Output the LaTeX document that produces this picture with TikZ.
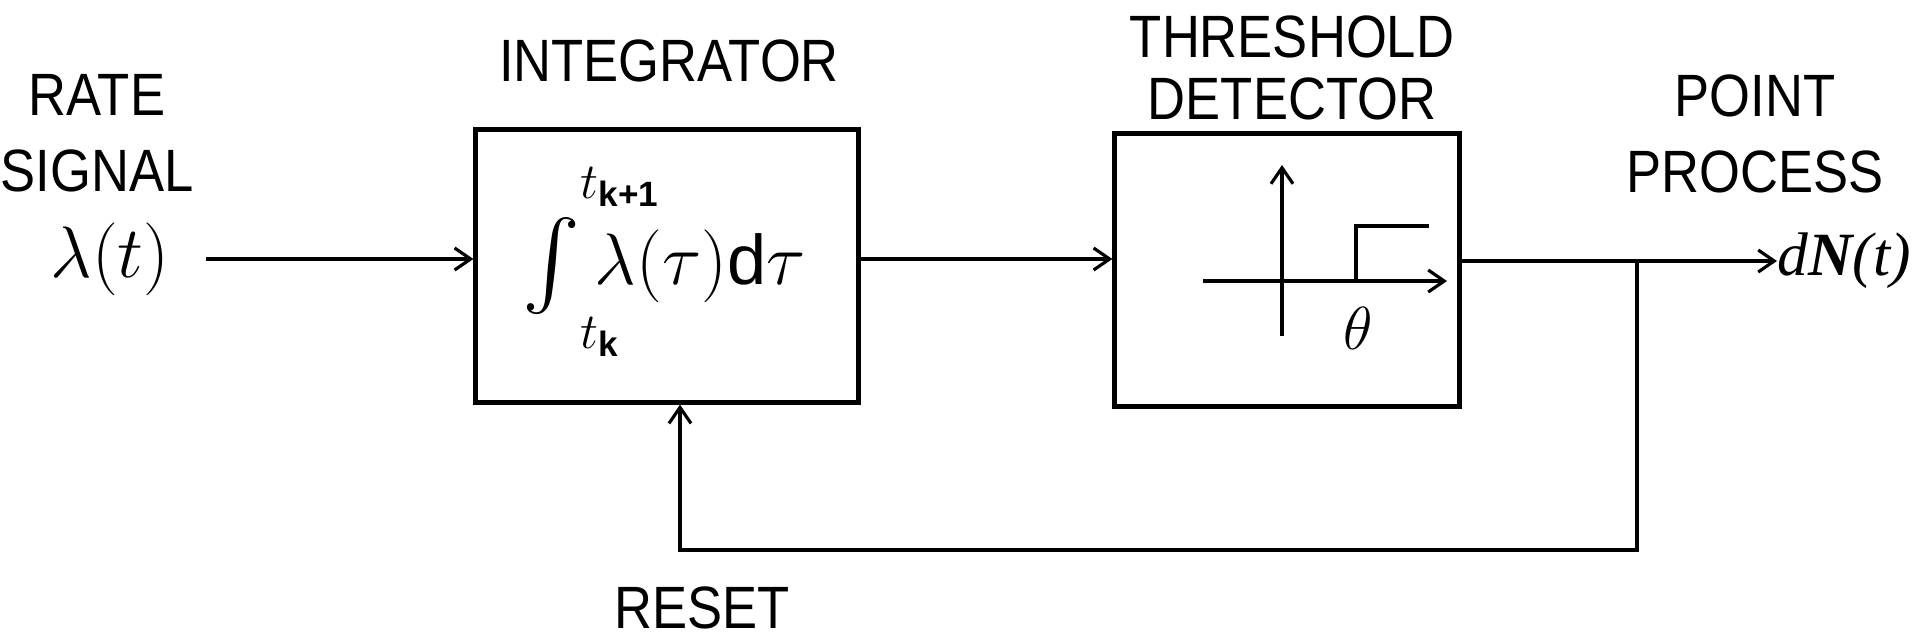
\documentclass[tikz,border=0pt]{standalone}
\usepackage{amsmath}
\usepackage{fontspec}
\setmainfont{Liberation Sans}
\newfontfamily\capsfont{Liberation Sans}[FakeStretch=0.88]
\newfontfamily\timesfont{Liberation Serif}
\usetikzlibrary{arrows.meta,positioning}

\begin{document}
\begin{tikzpicture}[
    x=0.1mm, y=0.1mm,
    block/.style={draw, line width=1.2pt, minimum width=38.3mm,
        minimum height=27.3mm, inner sep=0pt},
    caps/.style={font=\capsfont\fontsize{17}{17.5}\selectfont, align=center, inner sep=0pt},
    mathbig/.style={font=\fontsize{20}{24}\selectfont},
    arrow/.style={line width=0.9pt, -{Straight Barb[length=1.6mm, width=2.2mm]}},
    wire/.style={line width=0.9pt},
]
\useasboundingbox (0,0) rectangle (1915,642);

% Blocks
\node[block] (integ) at (667,376) {};
\node[block, minimum width=34.5mm] (thresh) at (1287,372) {};

% Integral
\node[mathbig] (integral) at (664,380)
    {$\mathop{\vcenter{\hbox{\fontsize{31}{31}\selectfont$\int$}}}\nolimits
      _{\rlap{\lower9pt\hbox{$\scriptstyle t_{\text{\bfseries k}}$}}}
      ^{\rlap{\raise11pt\hbox{$\scriptstyle t_{\text{\bfseries k+1}}$}}}
      \lambda(\tau)\mathrm{d}\tau$};

% Input and output signals
\node[mathbig, outer sep=2.5mm] (lam) at (110,383) {$\lambda(t)$};
\node[font=\timesfont\itshape\fontsize{17.5}{20}\selectfont, anchor=west,
    inner sep=0pt] (dN) at (1777,381) {d\textbf{N}(t)};

% Titles
\node[caps] (rate) at (97,509) {RATE\\[4pt]SIGNAL};
\node[caps] (integtitle) at (669,581) {INTEGRATOR};
\node[caps] (threshtitle) at (1292,574) {THRESHOLD\\DETECTOR};
\node[caps] (point) at (1755,508) {POINT\\[4pt]PROCESS};
\node[caps] (reset) at (702,34) {RESET};

% Threshold characteristic
\draw[arrow] (1282,306) -- (1282,477);
\draw[arrow] (1203,361) -- (1447,361);
\draw[wire] (1356,361) -- (1356,416) -- (1429,416);
\node[font=\fontsize{17}{20}\selectfont] (theta) at (1358,314) {$\theta$};

% Arrows
\coordinate (tap) at (1637,381);
\coordinate (corner) at (1637,92);
\draw[arrow] (lam) -- (integ.west |- lam);
\draw[arrow] (integ.east |- lam) -- (thresh.west |- lam);
\draw[arrow] (thresh.east |- dN.west) -- (dN.west);
\draw[arrow] (tap) -- (corner) -| ([xshift=1.3mm]integ.south);

\end{tikzpicture}
\end{document}
